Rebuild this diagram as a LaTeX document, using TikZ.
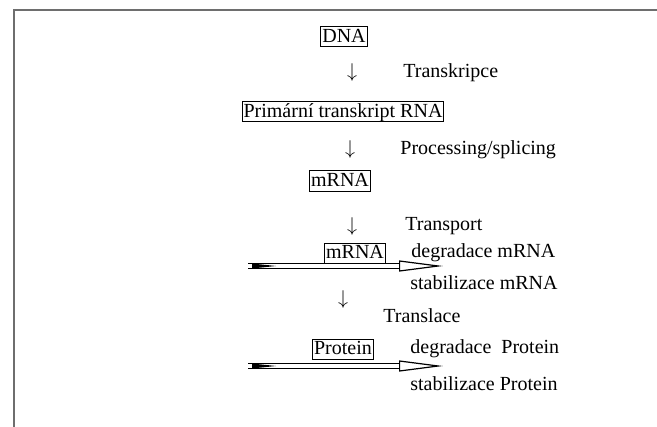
\documentclass[tikz,border=0pt]{standalone}
\usepackage{fontspec}
\setmainfont{Liberation Serif}
\usetikzlibrary{positioning,arrows.meta}
\definecolor{rimgray}{RGB}{110,110,110}
\tikzset{
  mol/.style={draw,line width=0.5pt,inner sep=0.7pt,text height=7pt,text depth=1.6pt,font=\fontsize{10}{12}\selectfont},
  proc/.style={anchor=west,inner sep=0pt,font=\fontsize{10}{12}\selectfont},
  darr/.style={inner sep=0pt,font=\fontsize{10}{12}\selectfont},
  dbl/.style={double,double distance=2pt,line width=0.6pt,-{Triangle[open,length=22pt,width=5.5pt]}},
  tail/.style={fill=black},
  rim/.style={rimgray,line width=0.8pt}
}
\begin{document}
\begin{tikzpicture}[x=0.5pt,y=-0.5pt]
  \useasboundingbox (0,0) rectangle (657,427);
  \draw[rim] (14,427) -- (14,10) -- (657,10);
  % chain of steps
  \node[mol] (dna) at (344,37) {DNA};
  \node[darr] (v1) at (352,73) {$\downarrow$};
  \node[proc] (t1) at (403,73) {Transkripce};
  \node[mol] (prim) at (343,112) {Primární transkript RNA};
  \node[darr] (v2) at (350,150) {$\downarrow$};
  \node[proc] (t2) at (400,150) {Processing/splicing};
  \node[mol] (mrna) at (340,181) {mRNA};
  \node[darr] (v3) at (352,226) {$\downarrow$};
  \node[proc] (t3) at (405,226) {Transport};
  \node[mol] (mrnb) at (355,253) {mRNA};
  \node[proc] (dm) at (411,253) {degradace mRNA};
  \node[proc] (sm) at (410,283) {stabilizace mRNA};
  \node[darr] (v4) at (343,299) {$\downarrow$};
  \node[proc] (t4) at (383,316) {Translace};
  \node[mol] (prot) at (343,349) {Protein};
  \node[proc] (dp) at (410,349) {degradace~~Protein};
  \node[proc] (sp) at (410,384) {stabilizace Protein};
  % long double arrows
  \foreach \n/\y in {a/266,b/366}{
    \coordinate (\n0) at (248,\y); \coordinate (\n1) at (443,\y);
    \draw[dbl] (\n0) -- (\n1);
    \fill[tail] (\n0) ++(4,-2.5) -- ++(24,2.5) -- ++(-24,2.5) -- cycle;}
\end{tikzpicture}
\end{document}
